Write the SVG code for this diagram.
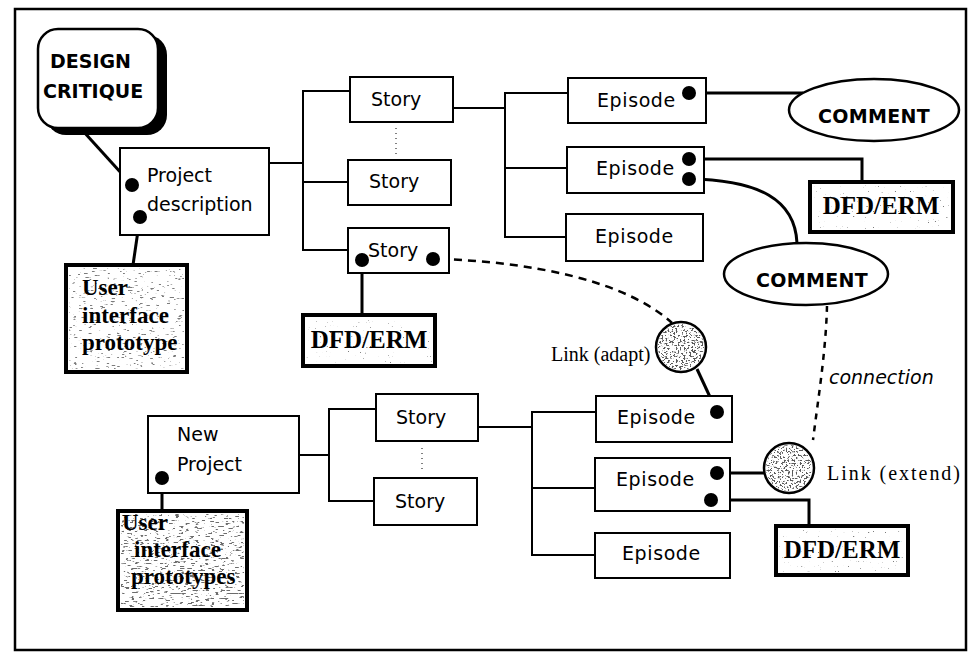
<svg xmlns="http://www.w3.org/2000/svg" width="971" height="661" viewBox="0 0 971 661">
<defs>
<filter id="spk" x="0" y="0" width="1" height="1">
<feTurbulence type="fractalNoise" baseFrequency="0.18 0.7" numOctaves="2" seed="4" result="n"/>
<feColorMatrix in="n" type="matrix" values="0 0 0 0 0.2  0 0 0 0 0.2  0 0 0 0 0.2  0 0 0 12 -7.9" result="m"/>
<feComposite in="m" in2="SourceGraphic" operator="in"/>
</filter>
<filter id="spkU" x="0" y="0" width="1" height="1">
<feTurbulence type="fractalNoise" baseFrequency="0.2 0.6" numOctaves="2" seed="7" result="n"/>
<feColorMatrix in="n" type="matrix" values="0 0 0 0 0.15  0 0 0 0 0.15  0 0 0 0 0.15  0 0 0 12 -7.3" result="m"/>
<feComposite in="m" in2="SourceGraphic" operator="in"/>
</filter>
<filter id="spkD" x="0" y="0" width="1" height="1">
<feTurbulence type="fractalNoise" baseFrequency="0.5 0.6" numOctaves="2" seed="9" result="n"/>
<feColorMatrix in="n" type="matrix" values="0 0 0 0 0.1  0 0 0 0 0.1  0 0 0 0 0.1  0 0 0 12 -6.5" result="m"/>
<feComposite in="m" in2="SourceGraphic" operator="in"/>
</filter>
<filter id="spkL" x="0" y="0" width="1" height="1">
<feTurbulence type="fractalNoise" baseFrequency="0.6 0.8" numOctaves="1" seed="2" result="n"/>
<feColorMatrix in="n" type="matrix" values="0 0 0 0 0.2  0 0 0 0 0.2  0 0 0 0 0.2  0 0 0 14 -10" result="m"/>
<feComposite in="m" in2="SourceGraphic" operator="in"/>
</filter>
</defs>
<style>
.box{fill:#fff;stroke:#000;stroke-width:2}
.heavy{fill:#fff;stroke:#000;stroke-width:4}
.lbl{font-family:"DejaVu Sans","Liberation Sans",sans-serif;font-size:19px;fill:#000}
.bold{font-family:"DejaVu Sans","Liberation Sans",sans-serif;font-weight:bold;font-size:19px;fill:#000}
.ser{font-family:"Liberation Serif",serif;font-weight:bold;fill:#000}
.link{font-family:"Liberation Serif",serif;font-size:20px;fill:#000}
.ital{font-family:"DejaVu Sans","Liberation Sans",sans-serif;font-style:italic;font-size:19px;fill:#000}
.ln{fill:none;stroke:#000;stroke-width:2}
.thk{fill:none;stroke:#000;stroke-width:3}
.dash{fill:none;stroke:#000;stroke-width:2.5;stroke-dasharray:8 6}
.dots{fill:none;stroke:#000;stroke-width:1;stroke-dasharray:1 4}
.dot{fill:#000}
.tex{fill:#fff}
</style>
<rect x="15" y="9" width="951" height="641" fill="#fff" stroke="#000" stroke-width="2.5"/>

<g id="connectors">
<path class="thk" d="M83,131 L132,185"/>
<path class="thk" d="M140,217 L133,265"/>
<path class="ln" d="M269,163 H303 M350,91 H303 V250 H348 M303,182 H348"/>
<path class="dots" d="M396,128 V158"/>
<path class="thk" d="M362,260 V315"/>
<path class="ln" d="M453,108 H505 M568,93 H505 V237 H566 M505,168 H567"/>
<path class="thk" d="M689,93 H803"/>
<path class="thk" d="M689,159 H862 V182"/>
<path class="thk" d="M689,179 C760,180 795,200 797,243"/>
<path class="dash" d="M440,259 C530,262 625,280 672,323"/>
<path class="thk" d="M697,369 L717,412"/>
<path class="dash" d="M827,306 C826,350 818,400 813,440" style="stroke-dasharray:6 6"/>
<path class="ln" d="M299,455 H329 M376,409 H329 V501 H374"/>
<path class="dots" d="M422,448 V472"/>
<path class="ln" d="M478,427 H532 M596,412 H532 V555 H595 M532,488 H595"/>
<path class="thk" d="M162,478 V511"/>
<path class="thk" d="M717,473 H764"/>
<path class="thk" d="M711,500 H809 V526"/>
</g>

<g id="design-critique">
<rect x="46" y="35" width="121" height="100" rx="20" fill="#000"/>
<rect x="38" y="29" width="120" height="99" rx="20" fill="#fff" stroke="#000" stroke-width="2.5"/>
<text class="bold" x="50" y="68">DESIGN</text>
<text class="bold" x="43" y="98">CRITIQUE</text>
</g>

<g id="project-description">
<rect class="box" x="120" y="148" width="149" height="87"/>
<text class="lbl" x="147" y="182">Project</text>
<text class="lbl" x="147" y="211">description</text>
<circle class="dot" cx="132" cy="185" r="7"/>
<circle class="dot" cx="140" cy="217" r="7"/>
</g>

<g id="ui-prototype">
<rect class="heavy" x="66" y="265" width="121" height="107"/>
<rect class="tex" x="69" y="268" width="115" height="101" filter="url(#spk)"/>
<text class="ser" x="82" y="295" font-size="23">User</text>
<text class="ser" x="82" y="323" font-size="23">interface</text>
<text class="ser" x="82" y="350" font-size="23">prototype</text>
</g>

<g id="story-1">
<rect class="box" x="350" y="77" width="103" height="45"/>
<text class="lbl" x="371" y="106">Story</text>
</g>
<g id="story-2">
<rect class="box" x="348" y="160" width="103" height="45"/>
<text class="lbl" x="369" y="188">Story</text>
</g>
<g id="story-3">
<rect class="box" x="348" y="228" width="101" height="45"/>
<text class="lbl" x="368" y="257">Story</text>
<circle class="dot" cx="362" cy="260" r="7"/>
<circle class="dot" cx="433" cy="259" r="7"/>
</g>

<g id="dfd-erm-1">
<rect class="heavy" x="303" y="315" width="132" height="51"/>
<rect class="tex" x="306" y="318" width="126" height="45" filter="url(#spkL)"/>
<text class="ser" x="369" y="348" font-size="25" text-anchor="middle">DFD/ERM</text>
</g>

<g id="episode-1">
<rect class="box" x="568" y="78" width="138" height="45"/>
<text class="lbl" x="597" y="107" letter-spacing="0.6">Episode</text>
<circle class="dot" cx="689" cy="93" r="7"/>
</g>
<g id="episode-2">
<rect class="box" x="567" y="147" width="137" height="46"/>
<text class="lbl" x="596" y="175" letter-spacing="0.6">Episode</text>
<circle class="dot" cx="689" cy="159" r="7"/>
<circle class="dot" cx="689" cy="179" r="7"/>
</g>
<g id="episode-3">
<rect class="box" x="566" y="214" width="137" height="47"/>
<text class="lbl" x="595" y="243" letter-spacing="0.6">Episode</text>
</g>

<g id="comment-1">
<ellipse cx="874" cy="110" rx="85" ry="31" fill="#fff" stroke="#000" stroke-width="2.5"/>
<text class="bold" x="874" y="123" font-size="20" text-anchor="middle" letter-spacing="0.3">COMMENT</text>
</g>

<g id="dfd-erm-2">
<rect class="heavy" x="810" y="182" width="143" height="50"/>
<rect class="tex" x="813" y="185" width="137" height="44" filter="url(#spkL)"/>
<text class="ser" x="881" y="214" font-size="25" text-anchor="middle">DFD/ERM</text>
</g>

<g id="comment-2">
<ellipse cx="806" cy="274" rx="82" ry="31" fill="#fff" stroke="#000" stroke-width="2.5"/>
<text class="bold" x="812" y="287" font-size="20" text-anchor="middle" letter-spacing="0.3">COMMENT</text>
</g>

<g id="link-adapt">
<circle cx="681" cy="347" r="25" fill="#fff" stroke="#000" stroke-width="2.5"/>
<circle cx="681" cy="347" r="23" class="tex" filter="url(#spkD)"/>
<text class="link" x="551" y="361">Link (adapt)</text>
</g>

<text class="ital" x="829" y="384">connection</text>

<g id="new-project">
<rect class="box" x="148" y="416" width="151" height="77"/>
<text class="lbl" x="177" y="441">New</text>
<text class="lbl" x="177" y="471">Project</text>
<circle class="dot" cx="162" cy="478" r="7"/>
</g>

<g id="ui-prototypes">
<rect class="heavy" x="118" y="511" width="129" height="99"/>
<rect class="tex" x="121" y="514" width="123" height="93" filter="url(#spkU)"/>
<text class="ser" x="122" y="530" font-size="23">User</text>
<text class="ser" x="134" y="557" font-size="23">interface</text>
<text class="ser" x="131" y="584" font-size="23">prototypes</text>
</g>

<g id="new-story-1">
<rect class="box" x="376" y="394" width="102" height="47"/>
<text class="lbl" x="396" y="424">Story</text>
</g>
<g id="new-story-2">
<rect class="box" x="374" y="478" width="103" height="47"/>
<text class="lbl" x="395" y="508">Story</text>
</g>

<g id="new-episode-1">
<rect class="box" x="596" y="396" width="136" height="46"/>
<text class="lbl" x="617" y="424" letter-spacing="0.6">Episode</text>
<circle class="dot" cx="717" cy="412" r="7"/>
</g>
<g id="new-episode-2">
<rect class="box" x="595" y="458" width="135" height="53"/>
<text class="lbl" x="616" y="486" letter-spacing="0.6">Episode</text>
<circle class="dot" cx="717" cy="473" r="7"/>
<circle class="dot" cx="711" cy="500" r="7"/>
</g>
<g id="new-episode-3">
<rect class="box" x="595" y="533" width="135" height="45"/>
<text class="lbl" x="622" y="560" letter-spacing="0.6">Episode</text>
</g>

<g id="link-extend">
<circle cx="789" cy="468" r="25" fill="#fff" stroke="#000" stroke-width="2.5"/>
<circle cx="789" cy="468" r="23" class="tex" filter="url(#spkD)"/>
<text class="link" x="827" y="480" textLength="133" lengthAdjust="spacing">Link (extend)</text>
</g>

<g id="dfd-erm-3">
<rect class="heavy" x="776" y="526" width="132" height="49"/>
<rect class="tex" x="779" y="529" width="126" height="43" filter="url(#spkL)"/>
<text class="ser" x="842" y="558" font-size="25" text-anchor="middle">DFD/ERM</text>
</g>
</svg>
